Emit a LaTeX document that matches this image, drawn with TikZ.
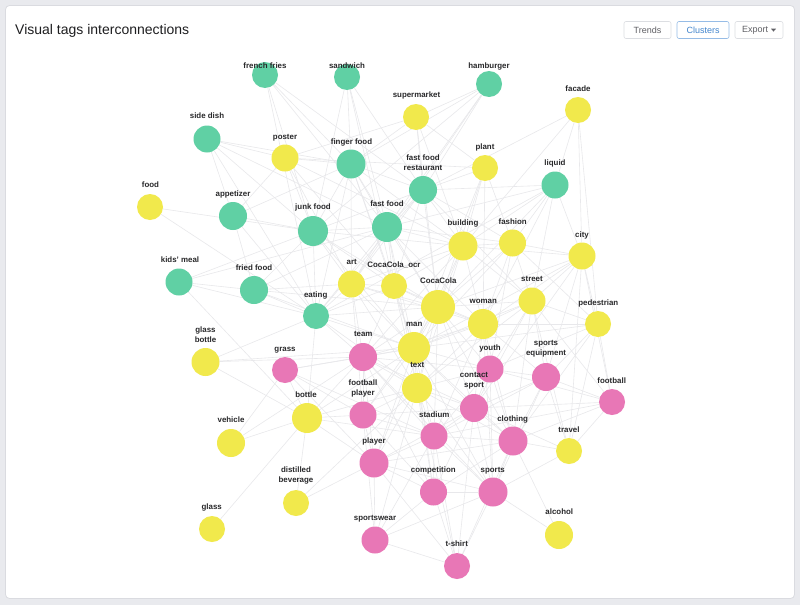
\documentclass[tikz,border=0pt]{standalone}
\usepackage{fontspec}
\setmainfont{Liberation Sans}
\pgfdeclarelayer{bgl}
\pgfdeclarelayer{edgel}
\pgfsetlayers{bgl,edgel,main}
\definecolor{pagebg}{RGB}{233,234,238}
\definecolor{cardline}{RGB}{218,219,224}
\definecolor{tgreen}{RGB}{96,208,164}
\definecolor{tyellow}{RGB}{241,233,76}
\definecolor{tpink}{RGB}{232,119,182}
\definecolor{edgec}{RGB}{232,232,235}
\definecolor{labc}{RGB}{40,40,42}
\definecolor{titlec}{RGB}{30,30,32}
\definecolor{btnline}{RGB}{220,222,226}
\definecolor{btntext}{RGB}{95,95,100}
\definecolor{bluebtn}{RGB}{66,133,205}
\definecolor{bluebord}{RGB}{150,188,230}
\tikzset{
  tag/.style={circle, inner sep=0pt, draw=none},
  lab/.style={inner sep=0pt, text=labc, font=\fontsize{7.9}{10}\selectfont\bfseries, text height=5.6pt, text depth=0pt},
  lab2/.style={inner sep=0pt, text=labc, font=\fontsize{7.9}{10}\selectfont\bfseries, align=center},
  edge/.style={draw=edgec, line width=0.6pt},
  btn/.style={draw=btnline, fill=white, rounded corners=2pt, line width=0.6pt, inner sep=0pt, minimum height=17pt, text=btntext, font=\fontsize{9}{10}\selectfont},
  btnsel/.style={btn, draw=bluebord, text=bluebtn},
  btntxt/.style={inner sep=0pt, text=btntext, font=\fontsize{9}{10}\selectfont}
}
\begin{document}
\begin{tikzpicture}[x=1pt,y=-1pt]
\useasboundingbox (0,0) rectangle (800,605);
\begin{pgfonlayer}{bgl}
\fill[pagebg] (0,0) rectangle (800,605);
\draw[cardline, fill=white, rounded corners=4pt, line width=0.8pt] (5.5,5.5) rectangle (794.5,598.5);
\end{pgfonlayer}

% title and buttons
\node[anchor=base west, inner sep=0pt, text=titlec, font=\fontsize{14}{16}\selectfont] (title) at (15,34.5) {Visual tags interconnections};
\node[btn, minimum width=47pt] (trends) at (647.5,30) {Trends};
\node[btnsel, minimum width=52pt] (clusters) at (703,30) {Clusters};
\node[btn, minimum width=48pt] (export) at (759,30) {};
\node[btntxt] (exportt) at (755,30) {Export};
\fill[btntext] (771,28.7) -- (776,28.7) -- (773.5,31.6) -- cycle;

% tag nodes
\foreach \n/\x/\y/\r/\c in {
  ff/265/75/13/tgreen, sw/347/77/13/tgreen, hb/489/84/13/tgreen,
  sd/207/139/13.5/tgreen, fi/351/164/14.5/tgreen, fr/423/190/14/tgreen,
  li/555/185/13.5/tgreen, ap/233/216/14/tgreen, jf/313/231/15/tgreen,
  fsf/387/227/15/tgreen, km/179/282/13.5/tgreen, fd/254/290/14/tgreen,
  ea/316/316/13/tgreen,
  sm/416/117/13/tyellow, fa/578/110/13/tyellow, po/285/158/13.5/tyellow,
  pl/485/168/13/tyellow, fo/150/207/13/tyellow, bu/463/246/14.5/tyellow,
  fh/512.5/243/13.5/tyellow, ci/582/256/13.5/tyellow, art/351.5/284/13.5/tyellow,
  cco/394/286/13/tyellow, cc/438/307/17/tyellow, st/532/301/13.5/tyellow,
  wo/483/324/15/tyellow, pe/598/324/13/tyellow, man/414/348/16/tyellow,
  gb/205.5/362/14/tyellow, tx/417/388/15/tyellow, bo/307/418/15/tyellow,
  ve/231/443/14/tyellow, tr/569/451/13/tyellow, db/296/503/13/tyellow,
  gl/212/529/13/tyellow, al/559/535/14/tyellow,
  te/363/357/14/tpink, gr/285/370/13/tpink, yo/490/369/13.5/tpink,
  se/546/377/14/tpink, fb/612/402/13/tpink, cs/474/408/14/tpink,
  fp/363/415/13.5/tpink, sta/434/436/13.5/tpink, cl/513/441/14.5/tpink,
  pla/374/463/14.5/tpink, co/433.5/492/13.5/tpink, sp/493/492/14.5/tpink,
  spw/375/540/13.5/tpink, ts/457/566/13/tpink}
  \node[tag, minimum size=2*\r, fill=\c] (\n) at (\x,\y) {};

% one-line labels
\foreach \n/\x/\y/\t in {
  ff/265/66/french fries, sw/347/66/sandwich, hb/489/66/hamburger,
  sm/416.5/95/supermarket, fa/578/89/facade, sd/207/116/side dish,
  po/285/136.5/poster, fi/351.5/141.7/finger food, pl/485/146.7/plant,
  li/555/162.3/liquid, fo/150.5/184.7/food, ap/233/194/appetizer,
  jf/313/206.7/junk food, fsf/387/203.3/fast food, bu/463/222.7/building,
  fh/512.7/222/fashion, ci/582/234.3/city, km/180/259.3/kids' meal,
  fd/254/267.7/fried food, art/351.7/262/art, cco/394/264.3/CocaCola\_ocr,
  cc/438.3/281/CocaCola, ea/315.7/294.3/eating, st/532/278.3/street,
  wo/483.3/300.7/woman, pe/598.3/302.7/pedestrian, man/414.3/323.3/man,
  te/363.3/333.7/team, gr/285/348.7/grass, yo/490/347.3/youth,
  tx/417.3/364.7/text, fb/611.7/380.7/football, bo/306/395/bottle,
  sta/434.3/414.3/stadium, cl/512.7/419/clothing, ve/231/420/vehicle,
  tr/569/429.7/travel, pla/374/440.3/player, co/433.3/469.7/competition,
  sp/492.7/469.7/sports, gl/211.7/506.7/glass, al/559.3/511.7/alcohol,
  spw/375/517.3/sportswear, ts/456.7/543.7/t-shirt}
  \node[lab, anchor=base] (\n-l) at (\x,\y+2.8) {\t};

% two-line labels
\node[lab2] (fr-l) at (423,162.7) {fast food\\restaurant};
\node[lab2] (gb-l) at (205.5,334.2) {glass\\bottle};
\node[lab2] (se-l) at (546,349) {sports\\equipment};
\node[lab2] (cs-l) at (474,380.5) {contact\\sport};
\node[lab2] (fp-l) at (363,388.3) {football\\player};
\node[lab2] (db-l) at (296,475.3) {distilled\\beverage};

% edges
\begin{pgfonlayer}{edgel}
\foreach \a/\bs in {
  ff/{fi,jf,fr,fsf,ea},
  sw/{fi,jf,fsf,fr,cco},
  hb/{fi,jf,fr,sm,fsf,art},
  sd/{po,fi,jf,ea,fsf,ap},
  fi/{po,jf,fsf,fr,ap,ea,art,cco,cc,bu,sm,man},
  fr/{sm,jf,fsf,bu,pl,li,cc,cco,art,ea,fh,st},
  jf/{ap,fsf,po,fd,km,ea,art,cco,cc,man,fo,bu},
  fsf/{ea,art,cco,cc,bu,fh,man,wo,li,tx,fd,km},
  ap/{ea,fd,po},
  km/{fd,ea,bo},
  fd/{ea,art,cc,man},
  ea/{art,cco,cc,man,te,gb,tx,bo,fo},
  li/{bu,fh,cc,st,ci,wo,ea},
  sm/{po,pl,bu,cc},
  pl/{bu,cc,fh,po,wo,man},
  fa/{fr,ci,pe,bu,li},
  po/{cco,art,bu},
  bu/{fh,cc,wo,man,st,ci,cco,tx,art,te},
  fh/{cc,wo,st,ci,man,pe,yo},
  ci/{st,pe,wo,cc,tr,se,fb,man,cs},
  art/{cco,cc,man,tx,te,fp,wo},
  cco/{cc,man,tx,te,wo},
  cc/{wo,man,tx,te,st,yo,cs,sta,pla,fp,cl},
  st/{wo,pe,man,se,cl,tr,yo,cs,fb,tx},
  wo/{man,tx,yo,se,cs,te,cl,sta,sp,pe},
  pe/{se,fb,tr,cl,yo,man},
  man/{tx,te,yo,fp,cs,sta,pla,gr,bo,cl,co,sp,gb},
  gb/{bo,te},
  tx/{te,fp,cs,sta,pla,co,sp,cl,bo,yo,spw,ts},
  bo/{te,fp,pla,gr,ve,gl,db,sta},
  ve/{gr,te},
  db/{tx,pla},
  tr/{cl,se,fb,sp,cs},
  al/{cl,sp},
  te/{gr,fp,pla,cs,sta,yo,co,sp},
  gr/{fp,pla,sta},
  yo/{se,cs,cl,sta,fb,sp},
  se/{cs,cl,fb,sp,sta},
  fb/{cs,cl,sta},
  cs/{sta,cl,co,sp,pla,fp,ts},
  fp/{pla,sta,co,spw},
  sta/{cl,pla,co,sp,spw,ts},
  cl/{sp,co,pla,ts},
  pla/{co,sp,spw,ts},
  co/{sp,spw,ts},
  sp/{spw,ts},
  spw/{ts}}
  \foreach \b in \bs \draw[edge] (\a) -- (\b);
\end{pgfonlayer}
\end{tikzpicture}
\end{document}
